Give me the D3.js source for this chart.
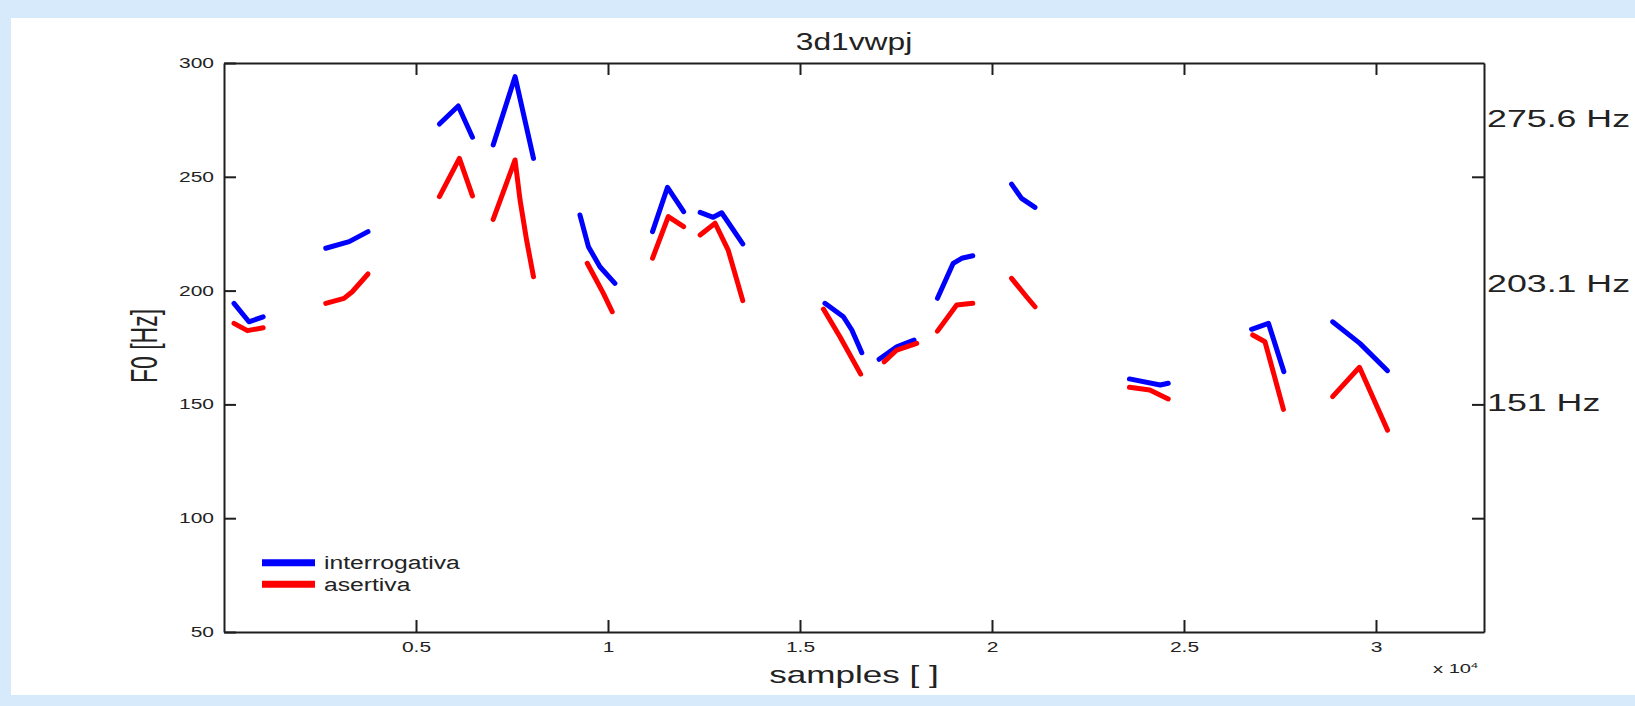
<!DOCTYPE html>
<html>
<head>
<meta charset="utf-8">
<script src="https://cdn.jsdelivr.net/npm/d3@7"></script>
<style>
  html, body { margin: 0; padding: 0; background: #d6eafc; }
  svg { display: block; }
  text { font-family: "Liberation Sans", Arial, sans-serif; fill: #222; }
</style>
</head>
<body>
<svg id="chart" width="1635" height="706"></svg>
<script>
// ---- data (x in samples, y in Hz) ----
const title = "3d1vwpj";
const xLabel = "samples [ ]";
const yLabel = "F0 [Hz]";
const seriesNames = ["interrogativa", "asertiva"];
const seriesColors = ["#0000ff", "#ff0000"];
const yTicks = [50, 100, 150, 200, 250, 300];
const xTicks = [5000, 10000, 15000, 20000, 25000, 30000];
const xTickLabels = ["0.5", "1", "1.5", "2", "2.5", "3"];
const rightTicks = [250, 150, 100];
const refValues = [275.6, 203.1, 151];
const refLabels = ["275.6 Hz", "203.1 Hz", "151 Hz"];

const interrogativa = [
  [[260,194.4],[650,186.3],[1020,188.5]],
  [[2650,218.6],[3260,221.5],[3750,225.9]],
  [[5610,273.2],[6100,281.1],[6470,267.4]],
  [[7010,264.0],[7580,294.0],[8060,258.1]],
  [[9270,233.2],[9490,219.3],[9790,210.5],[10180,203.2]],
  [[11160,225.9],[11550,245.4],[11970,234.7]],
  [[12400,234.4],[12740,232.2],[12960,234.2],[13510,220.5]],
  [[15650,194.4],[16130,188.5],[16350,182.7],[16610,172.7]],
  [[17060,169.8],[17520,175.3],[17970,178.3]],
  [[18580,196.6],[18990,212.0],[19210,214.2],[19500,215.3]],
  [[20510,246.8],[20770,240.5],[21120,236.6]],
  [[23580,161.2],[24380,158.5],[24590,159.3]],
  [[26760,183.0],[27200,185.6],[27600,164.4]],
  [[28870,186.3],[29580,176.8],[30300,164.8]]
];
const asertiva = [
  [[260,185.6],[610,182.4],[1020,183.7]],
  [[2650,194.4],[3125,196.6],[3340,199.5],[3750,207.3]],
  [[5610,241.3],[6130,258.1],[6470,241.6]],
  [[7010,231.3],[7580,257.4],[7710,239.8],[7880,222.2],[8060,206.1]],
  [[9460,212.0],[9880,198.8],[10110,190.7]],
  [[11160,214.2],[11570,232.5],[11970,228.1]],
  [[12400,224.4],[12790,229.6],[13130,217.8],[13510,195.6]],
  [[15610,191.9],[16040,179.7],[16580,163.3]],
  [[17190,168.7],[17520,173.9],[18040,176.8]],
  [[18580,182.2],[19080,193.7],[19500,194.4]],
  [[20510,205.4],[20900,197.3],[21120,192.9]],
  [[23580,157.5],[24110,156.3],[24590,152.4]],
  [[26790,180.5],[27110,177.5],[27590,147.8]],
  [[28870,153.4],[29570,166.3],[30300,138.7]]
];

// ---- layout ----
const W = 1635, H = 706;
const plot = { left: 224, right: 1484, top: 63, bottom: 632 };
const SX = 1.5; // horizontal text stretch seen in the reference

const svg = d3.select("#chart");
svg.append("rect").attr("x", 0).attr("y", 0).attr("width", W).attr("height", H).attr("fill", "#d6eafc");
svg.append("rect").attr("x", 11).attr("y", 18).attr("width", W - 11).attr("height", 695 - 18).attr("fill", "#ffffff");

const x = d3.scaleLinear().domain([0, 32813]).range([plot.left, plot.right]);
const y = d3.scaleLinear().domain([50, 300]).range([plot.bottom, plot.top]);

function stext(px, py, str, size, sx, anchor) {
  return svg.append("text")
    .attr("transform", `translate(${px},${py}) scale(${sx},1)`)
    .attr("text-anchor", anchor || "start")
    .style("font-size", size + "px")
    .text(str);
}

// ---- axes ----
const axColor = "#1e1e1e";
function styleAxis(g) {
  g.selectAll(".domain").attr("stroke", axColor).attr("stroke-width", 2);
  g.selectAll(".tick line").attr("stroke", axColor).attr("stroke-width", 2);
  g.selectAll("text").style("font-family", "\"Liberation Sans\", Arial, sans-serif").style("fill", "#222");
}

const gLeft = svg.append("g").attr("transform", `translate(${plot.left},0)`)
  .call(d3.axisLeft(y).tickValues(yTicks).tickSizeInner(-12).tickSizeOuter(0).tickPadding(10).tickFormat(d3.format("d")));
styleAxis(gLeft);
gLeft.selectAll("text").style("font-size", "14px").attr("transform", `scale(${SX},1)`).attr("x", -10 / SX);

const gBottom = svg.append("g").attr("transform", `translate(0,${plot.bottom})`)
  .call(d3.axisBottom(x).tickValues(xTicks).tickSizeInner(-12).tickSizeOuter(0).tickPadding(10)
    .tickFormat((d, i) => xTickLabels[i]));
styleAxis(gBottom);
gBottom.selectAll("text").style("font-size", "14px").attr("transform", `scale(${SX},1)`);

const gTop = svg.append("g").attr("transform", `translate(0,${plot.top})`)
  .call(d3.axisTop(x).tickValues(xTicks).tickSizeInner(-12).tickSizeOuter(0).tickFormat(""));
styleAxis(gTop);

const gRight = svg.append("g").attr("transform", `translate(${plot.right},0)`)
  .call(d3.axisRight(y).tickValues(rightTicks).tickSizeInner(-12).tickSizeOuter(0).tickFormat(""));
styleAxis(gRight);

// ---- data lines ----
const line = d3.line().x(d => x(d[0])).y(d => y(d[1]));
[interrogativa, asertiva].forEach((segs, si) => {
  svg.append("g").selectAll("path").data(segs).join("path")
    .attr("d", line)
    .attr("fill", "none")
    .attr("stroke", seriesColors[si])
    .attr("stroke-width", 5)
    .attr("stroke-linejoin", "round")
    .attr("stroke-linecap", "round");
});

// ---- texts ----
stext((plot.left + plot.right) / 2, 50, title, 23, 1.38, "middle");
stext((plot.left + plot.right) / 2, 683, xLabel, 24, 1.46, "middle");
svg.append("text")
  .attr("transform", `translate(157,${346}) scale(1.6,1) rotate(-90)`)
  .attr("text-anchor", "middle")
  .style("font-size", "23px")
  .text(yLabel);

refValues.forEach((v, i) => {
  stext(plot.right + 3, y(v) + 8.5, refLabels[i], 24, 1.49, "start");
});

// x 10^4 multiplier
const mult = svg.append("text")
  .attr("transform", `translate(1433,673) scale(1.55,1)`)
  .style("font-size", "13px");
mult.append("tspan").text("x 10");
mult.append("tspan").attr("dy", -5).style("font-size", "8px").text("4");

// ---- legend ----
const legY = [562.7, 584.3];
seriesNames.forEach((name, i) => {
  svg.append("line").attr("x1", 262).attr("x2", 315).attr("y1", legY[i]).attr("y2", legY[i])
    .attr("stroke", seriesColors[i]).attr("stroke-width", 7);
  stext(324, legY[i] + 6.5, name, 19, 1.3, "start");
});
</script>
</body>
</html>
